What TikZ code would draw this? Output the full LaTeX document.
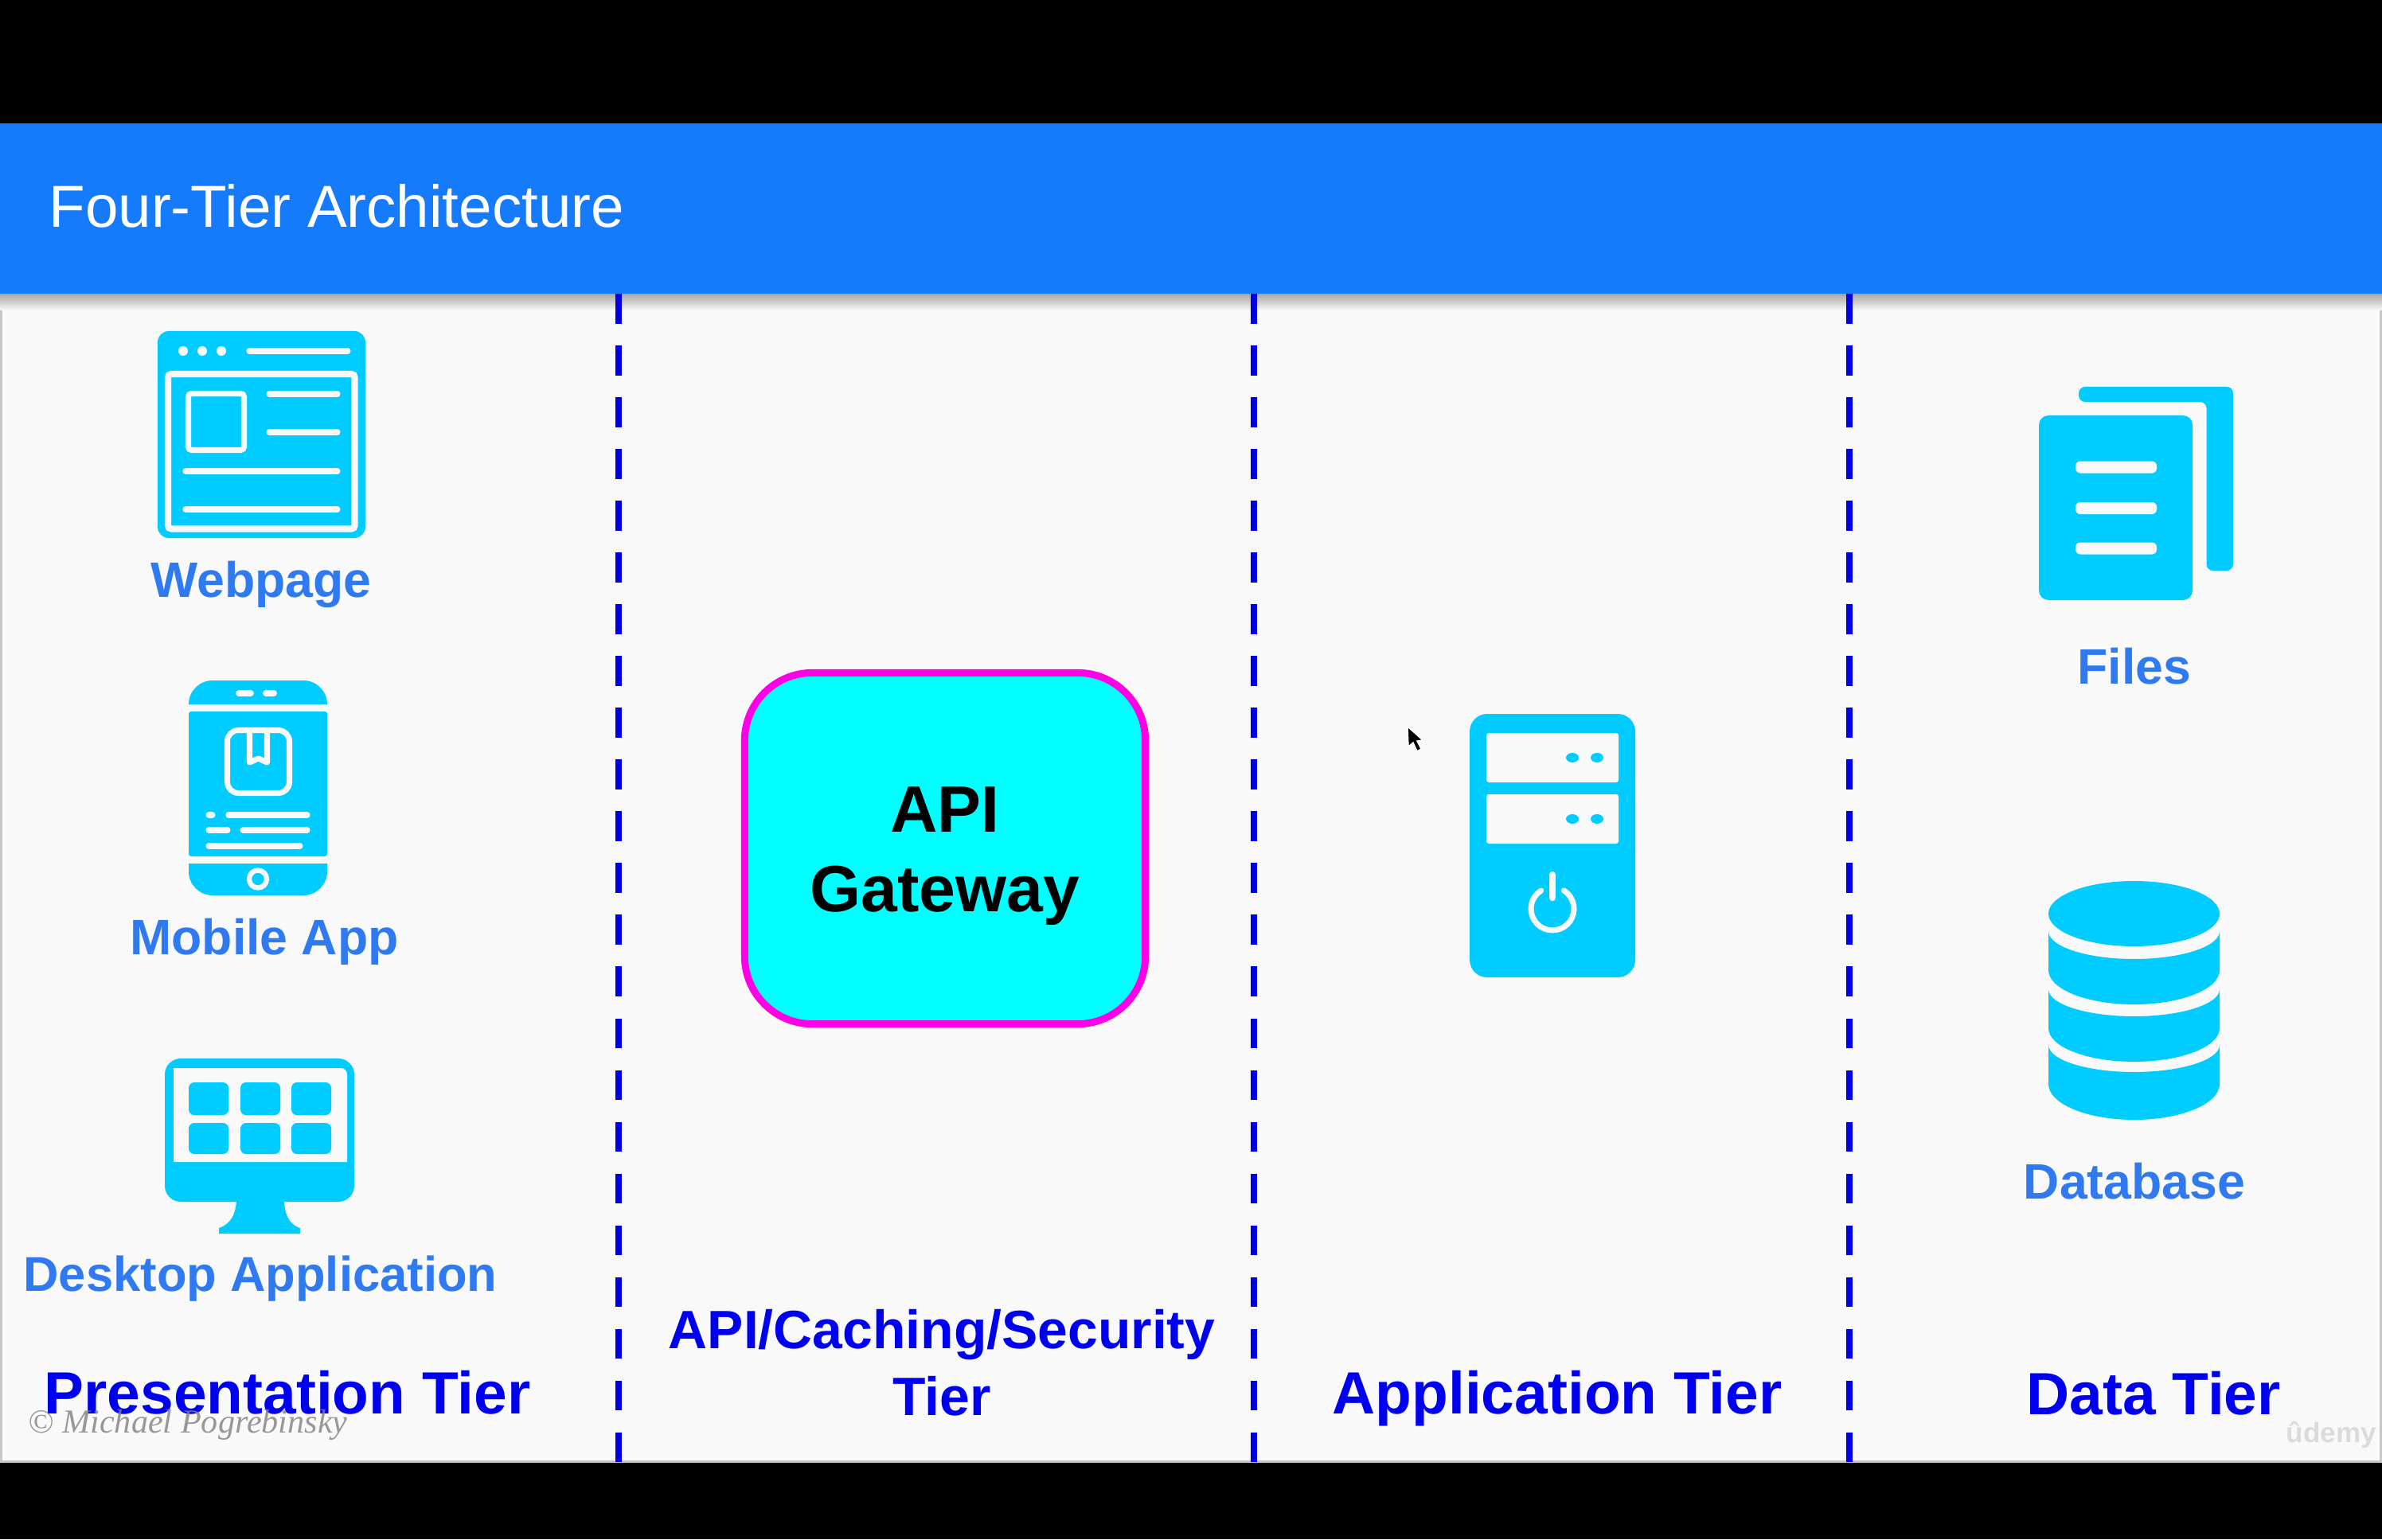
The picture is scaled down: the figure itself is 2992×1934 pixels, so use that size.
\documentclass[tikz,border=0pt]{standalone}
\usepackage{fontspec}
\setmainfont{Liberation Sans}
\newfontfamily\slideserif{Liberation Serif}
\usetikzlibrary{positioning}
\definecolor{slidebg}{HTML}{F9F9F9}
\definecolor{headblue}{HTML}{167BFB}
\definecolor{iconblue}{HTML}{00CCFF}
\definecolor{labelblue}{HTML}{2F7AF0}
\definecolor{tierblue}{HTML}{0000F0}
\definecolor{gatefill}{HTML}{00FFFF}
\definecolor{gateline}{HTML}{FF00E6}
\tikzset{
    icon/.style={fill=iconblue},
    cutout/.style={fill=slidebg},
    cutline/.style={draw=slidebg,line width=2pt,line cap=round},
    tierline/.style={draw=tierblue!95!black,line width=.08cm,dash pattern=on .375cm off .275cm},
    itemlabel/.style={anchor=base,inner sep=0pt,text=labelblue,font=\fontsize{17.8}{22}\selectfont\bfseries},
    tierlabel/.style={anchor=base,inner sep=0pt,text=tierblue,font=\fontsize{21.3}{26}\selectfont\bfseries},
}
\begin{document}
\begin{tikzpicture}[x=.01cm,y=-.01cm]
\fill [black] (0,0) rectangle (2992,1934);
\fill [black!22] (0,155) rectangle (2992,1838);
\fill [slidebg] (3,155) rectangle (2989,1835);
\shade [top color=black!35,bottom color=slidebg] (0,369) rectangle (2992,390);
\fill [headblue] (0,155) rectangle (2992,369);
\draw (61,286) node [anchor=base west,inner sep=0pt,text=white,font=\fontsize{21.2}{25}\selectfont] (title) {Four-Tier Architecture};
\foreach \x in {777,1575,2323}
    \draw [tierline] (\x,369) -- (\x,1838);
% webpage
\fill [icon,rounded corners=.14cm] (198,416) rectangle (459,676);
\foreach \x in {230,254,278}
    \fill [cutout] (\x,441) circle [radius=6];
\draw [cutline] (313,441) -- (437,441);
\draw [cutline,line width=2.3pt,rounded corners=.04cm] (211,470) rectangle (445.5,664.5);
\draw [cutline,rounded corners=.04cm] (236.5,494.5) rectangle (306.5,565.5);
\draw [cutline] (338,495) -- (424,495);
\draw [cutline] (338,543) -- (424,543);
\draw [cutline] (233,592) -- (424,592);
\draw [cutline] (233,640) -- (424,640);
% mobile
\fill [icon] (237,885) [rounded corners=.3cm] -- (237,855) -- (411,855) [sharp corners] -- (411,885) -- cycle;
\fill [icon,rounded corners=.03cm] (237,894) rectangle (411,1076);
\fill [icon] (237,1085) [rounded corners=.3cm] -- (237,1125) -- (411,1125) [sharp corners] -- (411,1085) -- cycle;
\fill [cutout,rounded corners=.04cm] (296,867) rectangle (319,875);
\fill [cutout,rounded corners=.04cm] (330,867) rectangle (348,875);
\draw [cutline,rounded corners=.14cm] (285.5,917.5) rectangle (363.5,996.5);
\draw [cutline,line cap=butt,line join=round] (313.5,917) -- (313.5,958) -- (324.5,953) -- (335.5,958) -- (335.5,917);
\draw [cutline] (262,1024) -- (267,1024);
\draw [cutline] (287,1024) -- (386,1024);
\draw [cutline] (262,1043) -- (286,1043);
\draw [cutline] (305,1043) -- (386,1043);
\draw [cutline] (262,1063) -- (377,1063);
\draw [draw=slidebg,line width=1.8pt] (324,1104.5) circle [radius=11];
% desktop
\fill [icon,rounded corners=.2cm] (207,1330) rectangle (445,1510);
\fill [cutout,rounded corners=.08cm] (218,1342) -- (436,1342) [sharp corners] -- (436,1460) -- (218,1460) -- cycle;
\fill [cutout] (218,1350) rectangle (436,1460);
\foreach \x in {237,302,366} {
    \fill [icon,rounded corners=.07cm] (\x,1360) rectangle +(50,41);
    \fill [icon,rounded corners=.07cm] (\x,1411) rectangle +(50,39);
}
\fill [icon] (297,1505) -- (357,1505) .. controls (357,1525) and (362,1538) .. (377,1543) -- (377,1550) -- (275,1550) -- (275,1543) .. controls (290,1538) and (297,1525) .. (297,1505) -- cycle;
\draw (328,750) node [itemlabel] (webpage) {Webpage}
    (332,1199) node [itemlabel] (mobile) {Mobile App}
    (327,1622) node [itemlabel,font=\fontsize{17.5}{22}\selectfont\bfseries] (desktop) {Desktop Application}
    (2681,859) node [itemlabel] (files) {Files}
    (2681,1506) node [itemlabel] (database) {Database};
% gateway
\node [draw=gateline,line width=.09cm,fill=gatefill,rounded corners=.85cm,minimum width=5.03cm,minimum height=4.41cm] (gatewaybox) at (1187,1066) {};
\node [align=center,inner sep=0pt,font=\fontsize{23.4}{28.4}\selectfont\bfseries,text=black] (gateway) at (1187,1076) {API\\Gateway};
% server
\fill [icon,rounded corners=.22cm] (1846,897) rectangle (2054,1228);
\foreach \y in {921,998} {
    \fill [cutout,rounded corners=.03cm] (1867,\y) rectangle +(166,62);
    \fill [icon] (1975,\y+31) circle [x radius=8,y radius=6];
    \fill [icon] (2006,\y+31) circle [x radius=8,y radius=6];
}
\draw [draw=slidebg,line width=2pt,line cap=round] (1935.7,1119) arc [start angle=238,end angle=-58,radius=27];
\draw [cutline,line width=2.4pt] (1950,1099) -- (1950,1128);
% cursor
\fill [black,draw=white,line width=.4pt] (1768,913) -- (1769,938) -- (1775,933) -- (1780,944) -- (1785,941) -- (1780,931) -- (1787,930) -- cycle;
% files
\fill [icon,rounded corners=.08cm] (2611,486) -- (2805,486) -- (2805,717) -- (2771.5,717) -- (2771.5,505) -- (2611,505) -- cycle;
\fill [icon,rounded corners=.12cm] (2561,522) rectangle (2754,754);
\foreach \y in {587,638.5,689}
    \fill [cutout,rounded corners=.06cm] (2607,\y-7.5) rectangle (2709,\y+7.5);
% database
\fill [icon] (2680.5,1148) circle [x radius=107.5,y radius=41];
\fill [icon] (2573,1170) arc [start angle=180,end angle=0,x radius=107.5,y radius=35] -- (2788,1219) arc [start angle=0,end angle=180,x radius=107.5,y radius=43] -- cycle;
\fill [icon] (2573,1243) arc [start angle=180,end angle=0,x radius=107.5,y radius=34] -- (2788,1292) arc [start angle=0,end angle=180,x radius=107.5,y radius=42] -- cycle;
\fill [icon] (2573,1313) arc [start angle=180,end angle=0,x radius=107.5,y radius=34] -- (2788,1362) arc [start angle=0,end angle=180,x radius=107.5,y radius=45] -- cycle;
% tiers
\draw (361,1776) node [tierlabel] (presentation) {Presentation Tier}
    (1956,1776) node [tierlabel] (application) {Application Tier}
    (2705,1777) node [tierlabel] (data) {Data Tier};
\node [inner sep=0pt,align=center,text=tierblue,font=\fontsize{19.3}{23.9}\selectfont\bfseries] (caching) at (1183,1712) {API/Caching/Security\\Tier};
% watermarks
\draw (35,1800) node [anchor=base west,inner sep=0pt,text=black!50,opacity=.8,font=\fontsize{12}{15}\slideserif\itshape\selectfont] (copyright) {© Michael Pogrebinsky}
    (2871,1812) node [anchor=base west,inner sep=0pt,text=black!14,font=\fontsize{10}{13}\selectfont\bfseries] (udemy) {ûdemy};
\end{tikzpicture}
\end{document}
